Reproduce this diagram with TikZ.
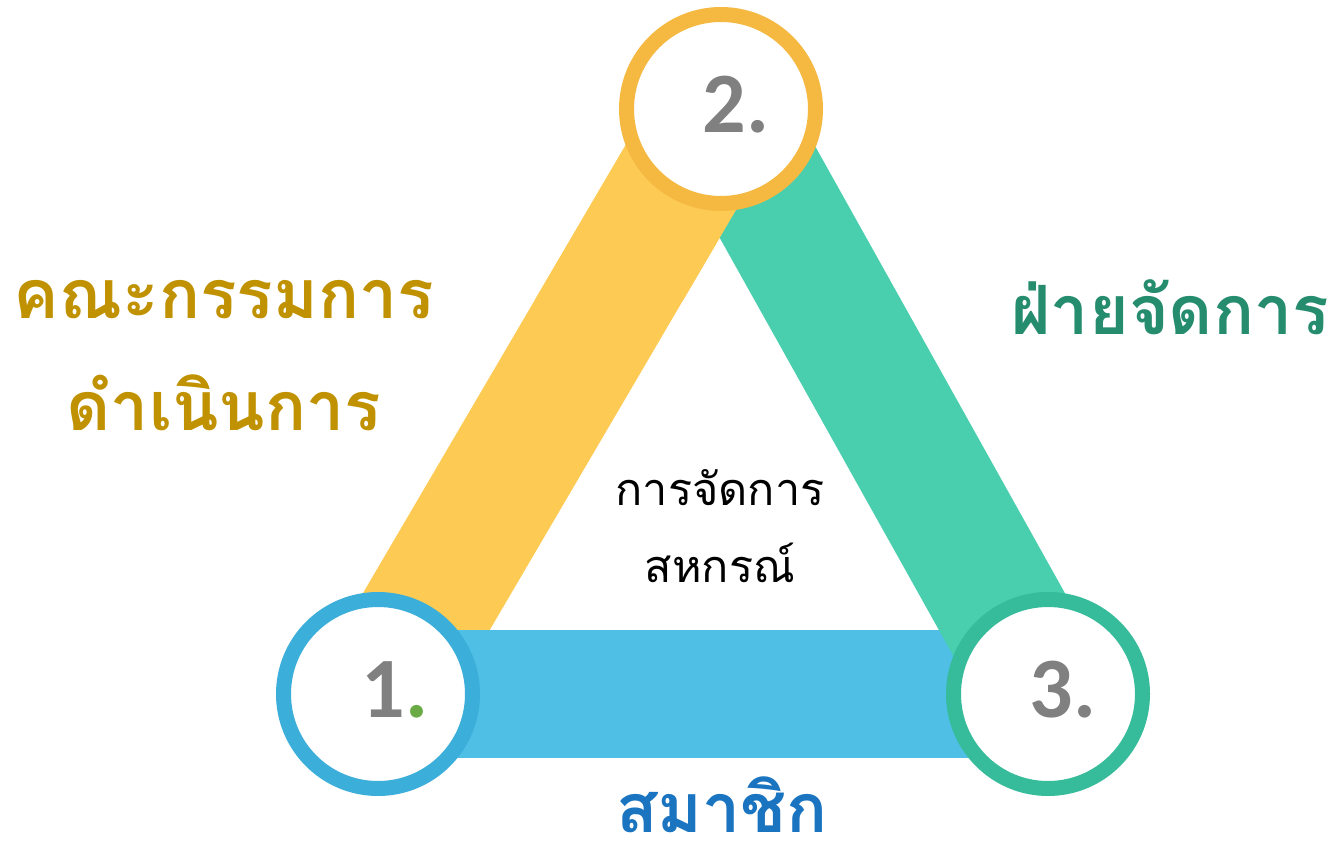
\documentclass[tikz,border=0pt]{standalone}
\usepackage{fontspec}
\newfontfamily\thai[Script=Thai]{Loma}
\newfontfamily\numfont{Carlito}
\definecolor{bandY}{HTML}{FDCB54}
\definecolor{bandG}{HTML}{4ACFAE}
\definecolor{bandB}{HTML}{4FBFE6}
\definecolor{ringY}{HTML}{F5B942}
\definecolor{ringG}{HTML}{36BC9A}
\definecolor{ringB}{HTML}{3BAED9}
\definecolor{numgray}{HTML}{808080}
\definecolor{dotgreen}{HTML}{6AAB46}
\definecolor{gold}{HTML}{C09100}
\definecolor{teal}{HTML}{258C6E}
\definecolor{blueT}{HTML}{1A74C0}
\tikzset{
  band/.style={line width=64pt},
  ring/.style={circle, fill=white, line width=7.5pt, minimum size=94.5pt, inner sep=0pt},
  num/.style={font=\numfont\bfseries\fontsize{43}{50}\selectfont, text=numgray},
  biglabel/.style={font=\thai\bfseries\fontsize{34}{56}\selectfont, align=center, inner sep=0pt},
  centerlabel/.style={font=\thai\fontsize{22.5}{38.5}\selectfont, align=center, inner sep=0pt}
}
\begin{document}
\begin{tikzpicture}[x=0.5pt,y=-0.5pt]
\useasboundingbox (0,0) rectangle (1337,855);
\coordinate (c1) at (378,694);
\coordinate (c2) at (721,109);
\coordinate (c3) at (1048,694);
% bands (cyclic overlap)
\draw[band, bandY] (c1) -- (c2);
\draw[band, bandB] (c1) -- (c3);
\draw[band, bandG] (c2) -- (c3);
\begin{scope}
  \clip (500,0) rectangle (800,300);
  \draw[band, bandY] (c1) -- (c2);
\end{scope}
% circles
\node[ring, draw=ringB] (n1) at (c1) {};
\node[ring, draw=ringY] (n2) at (c2) {};
\node[ring, draw=ringG] (n3) at (c3) {};
\node[num] (t1) at (395,690) {1\textcolor{dotgreen}{.}};
\node[num] (t2) at (736,105) {2.};
\node[num] (t3) at (1063,690) {3.};
% labels
\node[biglabel, text=gold] (lab1) at (224,356) {คณะกรรมการ\\ดำเนินการ};
\node[biglabel, text=teal] (lab2) at (1170,307) {ฝ่ายจัดการ};
\node[biglabel, text=blueT] (lab3) at (722,805) {สมาชิก};
\node[centerlabel] (mid) at (720,526) {การจัดการ\\สหกรณ์};
\end{tikzpicture}
\end{document}
